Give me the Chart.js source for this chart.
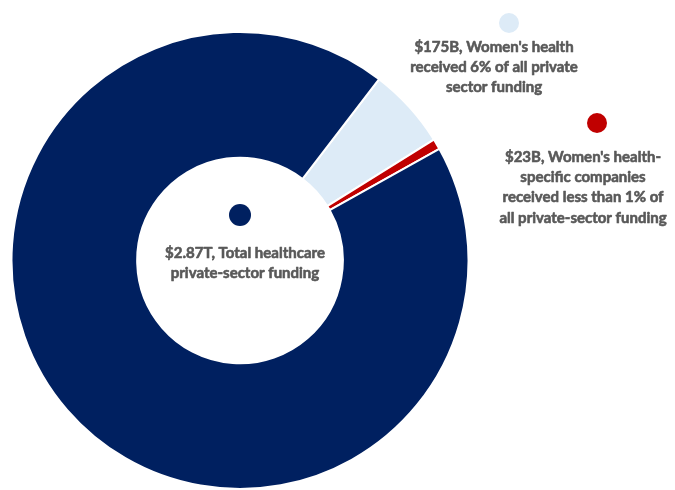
<!DOCTYPE html>
<html>
<head>
<meta charset="utf-8">
<script src="https://cdn.jsdelivr.net/npm/chart.js@4/dist/chart.umd.min.js"></script>
<style>
  html, body { margin: 0; padding: 0; background: #ffffff; }
  #wrap { width: 675px; height: 490px; position: relative; }
</style>
</head>
<body>
<div id="wrap"><canvas id="c" width="675" height="490"></canvas></div>
<script>
// Funding amounts in billions of US dollars
const categories = [
  "Women's health",
  "Women's health-specific companies",
  "Total healthcare private-sector funding"
];
const fundingBillions = [175, 23, 2870];
const sliceColors = ["#DDEBF7", "#C00000", "#002060"];

// Callout text for each slice (lines)
const calloutLines = [
  ["$175B, Women's health", "received 6% of all private", "sector funding"],
  ["$23B, Women's health-", "specific companies", "received less than 1% of", "all private-sector funding"],
  ["$2.87T, Total healthcare", "private-sector funding"]
];

// Marker dot + text block placement for each callout
const calloutPlacement = [
  { dot: [509, 23], r: 10, textX: 494, textY: 47 },
  { dot: [597, 123], r: 10, textX: 583, textY: 157 },
  { dot: [240, 215], r: 11, textX: 245, textY: 253 }
];

const calloutPlugin = {
  id: 'callouts',
  afterDraw(chart) {
    const ctx = chart.ctx;
    ctx.save();
    calloutPlacement.forEach((p, i) => {
      ctx.beginPath();
      ctx.arc(p.dot[0], p.dot[1], p.r, 0, Math.PI * 2);
      ctx.fillStyle = sliceColors[i];
      ctx.fill();
      ctx.fillStyle = '#595959';
      ctx.strokeStyle = '#595959';
      ctx.lineWidth = 0.6;
      ctx.lineJoin = 'round';
      ctx.font = 'bold 15px Lato, "Open Sans", sans-serif';
      ctx.textAlign = 'center';
      ctx.textBaseline = 'middle';
      calloutLines[i].forEach((line, j) => {
        const y = p.textY + j * 20.3;
        ctx.fillText(line, p.textX, y);
        ctx.strokeText(line, p.textX, y);
      });
    });
    ctx.restore();
  }
};

new Chart(document.getElementById('c'), {
  type: 'doughnut',
  data: {
    labels: categories,
    datasets: [{
      data: fundingBillions,
      backgroundColor: sliceColors,
      borderColor: '#ffffff',
      borderWidth: 2,
      hoverOffset: 0
    }]
  },
  options: {
    responsive: false,
    animation: false,
    rotation: 37.5,
    cutout: '45%',
    layout: { padding: { left: 10, right: 205, top: 31, bottom: 0 } },
    plugins: {
      legend: { display: false },
      tooltip: { enabled: false }
    }
  },
  plugins: [calloutPlugin]
});
</script>
</body>
</html>
